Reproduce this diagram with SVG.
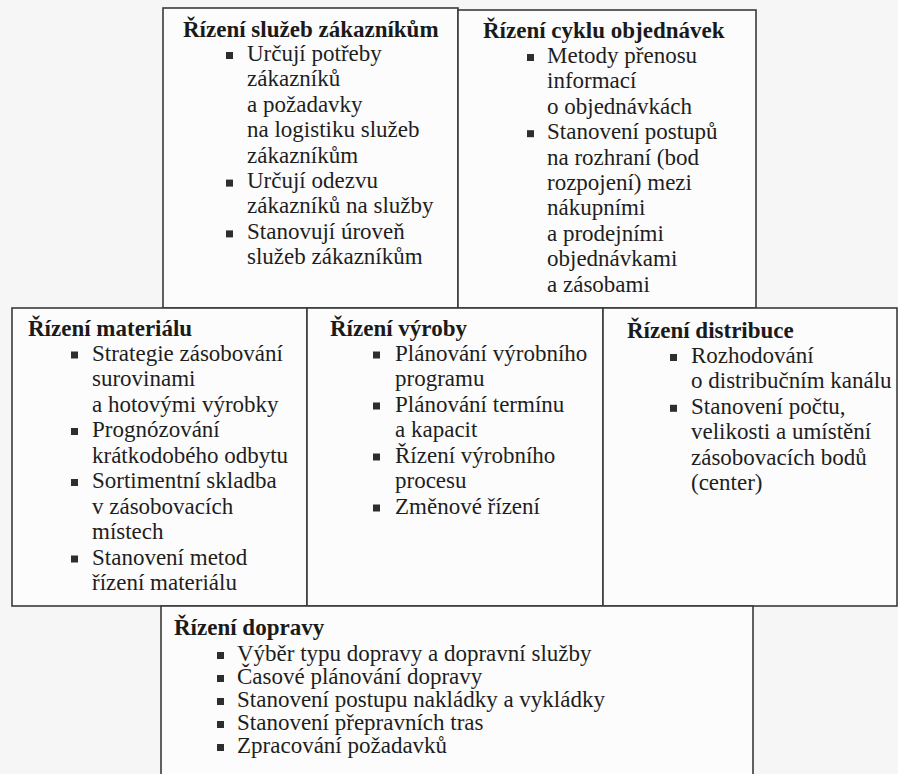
<svg xmlns="http://www.w3.org/2000/svg" width="898" height="774" viewBox="0 0 898 774">
<defs>
<style>
.box{fill:#fcfcfc;stroke:#3a3a3a;stroke-width:1.6}
.t{font-family:"Liberation Serif","Times New Roman",serif;font-size:23px;fill:#1e1e1e}
.h{font-family:"Liberation Serif","Times New Roman",serif;font-size:23px;font-weight:bold;fill:#1a1a1a}
.b{fill:#2e2e2e}
</style>
<rect id="bul" width="7" height="7" class="b"/>
</defs>
<rect x="0" y="0" width="898" height="774" fill="#f6f6f6"/>

<g id="sluzby">
<rect class="box" x="163" y="8" width="295" height="300"/>
<text class="h" x="183" y="37">Řízení služeb zákazníkům</text>
<use href="#bul" x="226" y="52"/>
<use href="#bul" x="226" y="179.6"/>
<use href="#bul" x="226" y="230.4"/>
<text class="t" x="247" y="61">Určují potřeby</text>
<text class="t" x="247" y="86.4">zákazníků</text>
<text class="t" x="247" y="111.8">a požadavky</text>
<text class="t" x="247" y="137.2">na logistiku služeb</text>
<text class="t" x="247" y="162.6">zákazníkům</text>
<text class="t" x="247" y="188">Určují odezvu</text>
<text class="t" x="247" y="213.4">zákazníků na služby</text>
<text class="t" x="247" y="238.8">Stanovují úroveň</text>
<text class="t" x="247" y="264.2">služeb zákazníkům</text>
</g>

<g id="objednavky">
<rect class="box" x="458" y="10" width="298" height="298"/>
<text class="h" x="483" y="38">Řízení cyklu objednávek</text>
<use href="#bul" x="527" y="54"/>
<use href="#bul" x="527" y="130.2"/>
<text class="t" x="547" y="63">Metody přenosu</text>
<text class="t" x="547" y="88.4">informací</text>
<text class="t" x="547" y="113.8">o objednávkách</text>
<text class="t" x="547" y="139.2">Stanovení postupů</text>
<text class="t" x="547" y="164.6">na rozhraní (bod</text>
<text class="t" x="547" y="190">rozpojení) mezi</text>
<text class="t" x="547" y="215.4">nákupními</text>
<text class="t" x="547" y="240.8">a prodejními</text>
<text class="t" x="547" y="266.2">objednávkami</text>
<text class="t" x="547" y="291.6">a zásobami</text>
</g>

<g id="material">
<rect class="box" x="12" y="308" width="295" height="298"/>
<text class="h" x="28" y="336">Řízení materiálu</text>
<use href="#bul" x="71" y="351.5"/>
<use href="#bul" x="71" y="428"/>
<use href="#bul" x="71" y="479"/>
<use href="#bul" x="71" y="555.5"/>
<text class="t" x="92" y="360.5">Strategie zásobování</text>
<text class="t" x="92" y="386">surovinami</text>
<text class="t" x="92" y="411.5">a hotovými výrobky</text>
<text class="t" x="92" y="437">Prognózování</text>
<text class="t" x="92" y="462.5">krátkodobého odbytu</text>
<text class="t" x="92" y="488">Sortimentní skladba</text>
<text class="t" x="92" y="513.5">v zásobovacích</text>
<text class="t" x="92" y="539">místech</text>
<text class="t" x="92" y="564.5">Stanovení metod</text>
<text class="t" x="92" y="590">řízení materiálu</text>
</g>

<g id="vyroba">
<rect class="box" x="307" y="308" width="296" height="298"/>
<text class="h" x="330" y="336">Řízení výroby</text>
<use href="#bul" x="373" y="351.5"/>
<use href="#bul" x="373" y="402.5"/>
<use href="#bul" x="373" y="453.5"/>
<use href="#bul" x="373" y="504.5"/>
<text class="t" x="395" y="360.5">Plánování výrobního</text>
<text class="t" x="395" y="386">programu</text>
<text class="t" x="395" y="411.5">Plánování termínu</text>
<text class="t" x="395" y="437">a kapacit</text>
<text class="t" x="395" y="462.5">Řízení výrobního</text>
<text class="t" x="395" y="488">procesu</text>
<text class="t" x="395" y="513.5">Změnové řízení</text>
</g>

<g id="distribuce">
<rect class="box" x="603" y="308" width="294" height="298"/>
<text class="h" x="627" y="338">Řízení distribuce</text>
<use href="#bul" x="670" y="354"/>
<use href="#bul" x="670" y="404.8"/>
<text class="t" x="691" y="363">Rozhodování</text>
<text class="t" x="691" y="388.4">o distribučním kanálu</text>
<text class="t" x="691" y="413.8">Stanovení počtu,</text>
<text class="t" x="691" y="439.2">velikosti a umístění</text>
<text class="t" x="691" y="464.6">zásobovacích bodů</text>
<text class="t" x="691" y="490">(center)</text>
</g>

<g id="doprava">
<rect class="box" x="161" y="606" width="592" height="190"/>
<text class="h" x="174" y="635">Řízení dopravy</text>
<use href="#bul" x="217" y="652"/>
<use href="#bul" x="217" y="675"/>
<use href="#bul" x="217" y="698"/>
<use href="#bul" x="217" y="721"/>
<use href="#bul" x="217" y="744"/>
<text class="t" x="237" y="661">Výběr typu dopravy a dopravní služby</text>
<text class="t" x="237" y="684">Časové plánování dopravy</text>
<text class="t" x="237" y="707">Stanovení postupu nakládky a vykládky</text>
<text class="t" x="237" y="730">Stanovení přepravních tras</text>
<text class="t" x="237" y="753">Zpracování požadavků</text>
</g>

<g id="connectors"></g>
</svg>
